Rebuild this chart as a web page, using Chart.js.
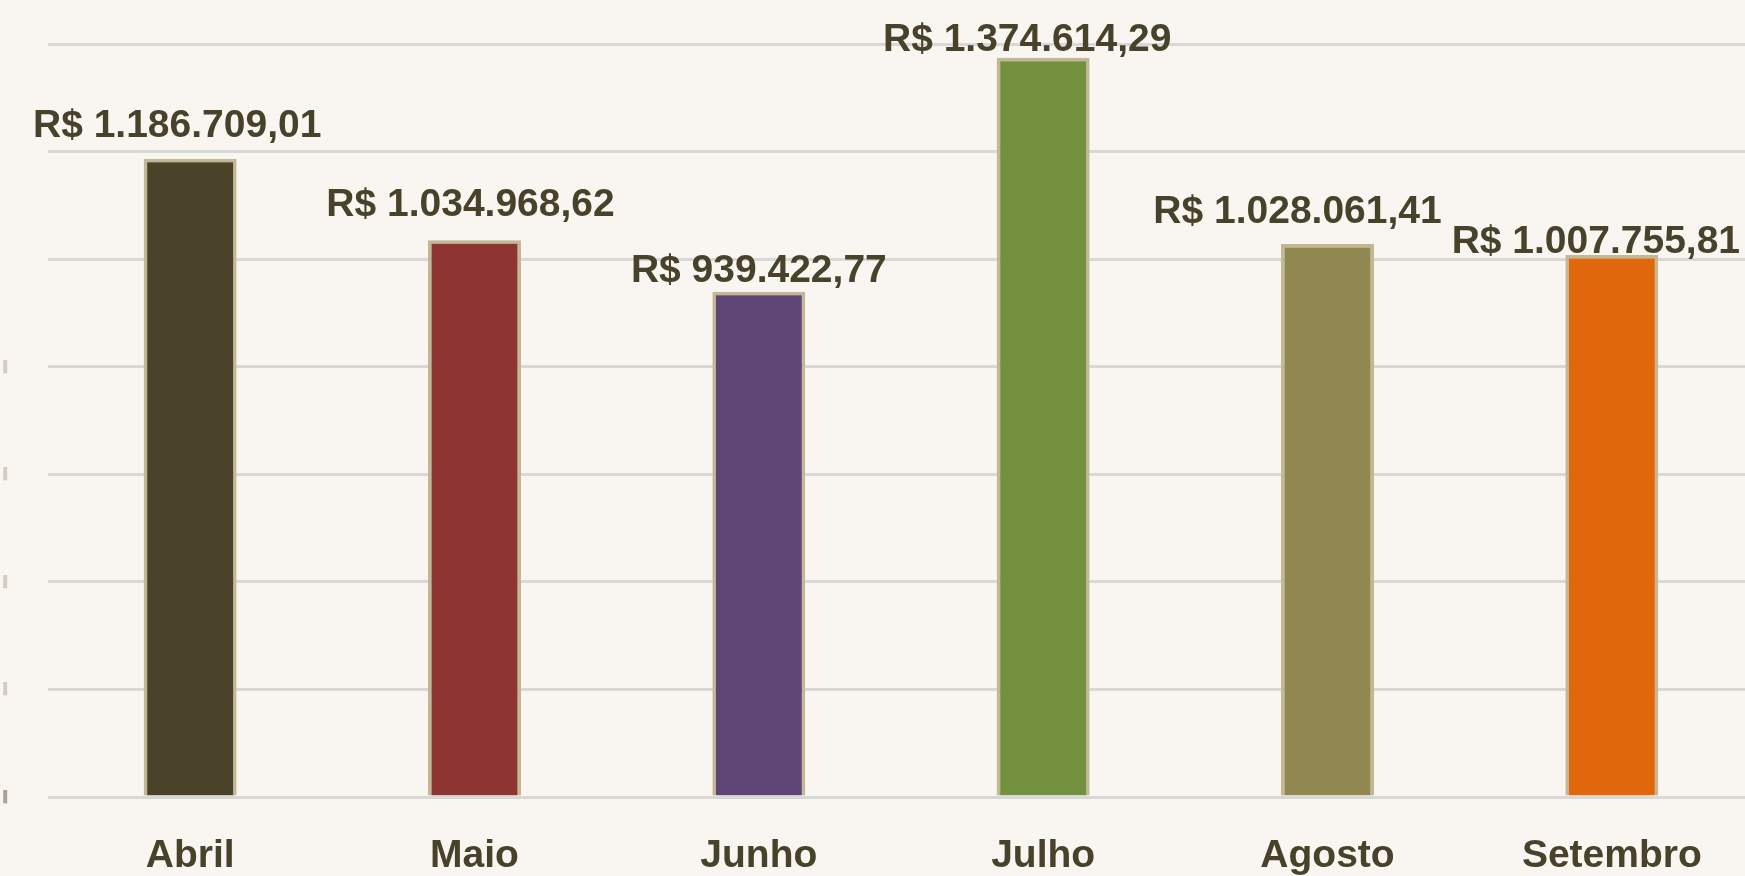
<!DOCTYPE html>
<html>
<head>
<meta charset="utf-8">
<script src="https://cdn.jsdelivr.net/npm/chart.js@4/dist/chart.umd.min.js"></script>
<style>
  html, body { margin: 0; padding: 0; background: #F9F5F1; overflow: hidden; }
  #wrap { width: 1760px; height: 876px; position: relative; }
</style>
</head>
<body>
<div id="wrap"><canvas id="c"></canvas></div>
<script>
// ---- data ----
const categories = ['Abril', 'Maio', 'Junho', 'Julho', 'Agosto', 'Setembro'];
const revenue = [1186709.01, 1034968.62, 939422.77, 1374614.29, 1028061.41, 1007755.81];
const valueLabels = ['R$ 1.186.709,01', 'R$ 1.034.968,62', 'R$ 939.422,77', 'R$ 1.374.614,29', 'R$ 1.028.061,41', 'R$ 1.007.755,81'];
const yMax = 1400000;
const yStep = 200000;

// ---- style ----
const barColors = ['#4A4229', '#8E3532', '#5E4573', '#72903D', '#918751', '#E0670C'];
const labelShiftX = [-13, -4, 0, -16, -30, -16];
const labelGapY = [22, 24, 10, 7, 21, 2];
const textColor = '#48422A';
const fontFamily = '"Liberation Sans", Arial, sans-serif';

const valueLabelPlugin = {
  id: 'valueLabels',
  afterDatasetsDraw(chart) {
    const ctx = chart.ctx;
    const meta = chart.getDatasetMeta(0);
    ctx.save();
    ctx.font = 'bold 39px ' + fontFamily;
    ctx.fillStyle = textColor;
    ctx.textAlign = 'center';
    ctx.textBaseline = 'alphabetic';
    meta.data.forEach((bar, i) => {
      ctx.fillText(valueLabels[i], bar.x + labelShiftX[i], bar.y - labelGapY[i]);
    });
    ctx.restore();
  }
};

new Chart(document.getElementById('c'), {
  type: 'bar',
  data: {
    labels: categories,
    datasets: [{
      data: revenue,
      backgroundColor: barColors,
      borderColor: '#C3B894',
      borderWidth: 3.5,
      borderSkipped: 'start',
      categoryPercentage: 1,
      barPercentage: 0.327
    }]
  },
  options: {
    responsive: true,
    maintainAspectRatio: false,
    animation: false,
    layout: { padding: { top: 44, right: 6, left: 0, bottom: 0 } },
    plugins: { legend: { display: false }, tooltip: { enabled: false } },
    scales: {
      x: {
        grid: { display: false, drawTicks: false },
        border: { display: false },
        ticks: {
          color: textColor,
          font: { family: fontFamily, size: 39, weight: 'bold' },
          padding: 36,
          maxRotation: 0
        },
        afterFit(scale) { scale.height = 79; }
      },
      y: {
        min: 0,
        max: yMax,
        grid: { color: '#D8D8D6', lineWidth: 3, drawTicks: false },
        border: { display: false },
        ticks: {
          stepSize: yStep,
          padding: 37,
          font: { family: fontFamily, size: 11, weight: 'bold' },
          color: (c) => (c.tick && c.tick.value === 0 ? '#A9A492' : '#D3CDC0'),
          callback: (v) => (v <= 800000 ? '\u258C' : '')
        },
        afterFit(scale) { scale.width = 48; }
      }
    }
  },
  plugins: [valueLabelPlugin]
});
</script>
</body>
</html>
